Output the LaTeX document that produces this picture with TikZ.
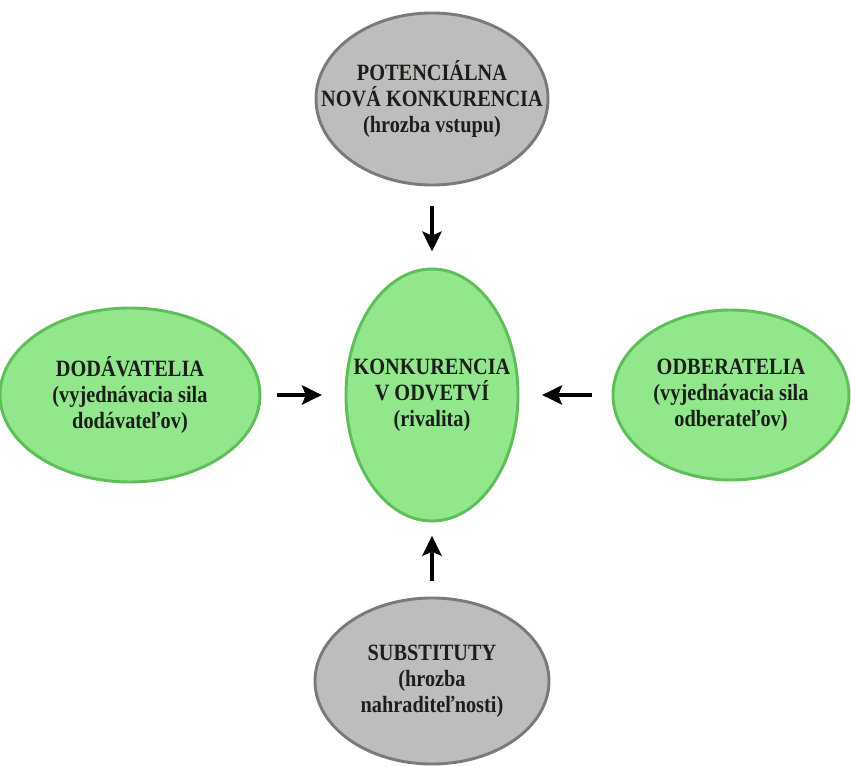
\documentclass[tikz,border=0pt]{standalone}
\usepackage{fontspec}
\setmainfont{Liberation Serif}[FakeStretch=0.87]
\usetikzlibrary{arrows.meta, positioning, shapes.geometric}

\definecolor{forcegreen}{HTML}{92E68C}
\definecolor{forcegreenline}{HTML}{5EBF58}
\definecolor{forcegray}{HTML}{BDBDBD}
\definecolor{forcegrayline}{HTML}{7A7A7A}
\definecolor{forcetext}{HTML}{1A1F1A}

\begin{document}
\begin{tikzpicture}[x=0.75pt, y=-0.75pt,
    force/.style={ellipse, line width=2.2pt, inner sep=-40pt, align=center,
        text=forcetext, font=\bfseries\fontsize{17.5}{19.5}\selectfont},
    greenforce/.style={force, fill=forcegreen, draw=forcegreenline},
    grayforce/.style={force, fill=forcegray, draw=forcegrayline},
    push/.style={-{Stealth[length=15pt, width=14.5pt, inset=3pt]}, line width=2.4pt}
]

    \useasboundingbox (0,0) rectangle (851,767);

    % INDUSTRY RIVALRY
    \node[greenforce, minimum width=129pt, minimum height=189pt]
        (rival) at (432,395)
        {KONKURENCIA\\V ODVETVÍ\\(rivalita)};

    % NEW ENTRANTS
    \node[grayforce, minimum width=174pt, minimum height=129pt]
        (entry) at (432,99)
        {POTENCIÁLNA\\NOVÁ KONKURENCIA\\(hrozba vstupu)};

    % SUPPLIERS
    \node[greenforce, minimum width=195pt, minimum height=130.5pt]
        (supply) at (130,395)
        {DODÁVATELIA\\(vyjednávacia sila\\dodávateľov)};

    % BUYERS
    \node[greenforce, minimum width=177pt, minimum height=127.5pt]
        (buyer) at (731,395)
        {ODBERATELIA\\(vyjednávacia sila\\odberateľov)};

    % SUBSTITUTES
    \node[grayforce, minimum width=175.5pt, minimum height=124.5pt]
        (subst) at (432,681)
        {SUBSTITUTY\\(hrozba\\nahraditeľnosti)};

    % FORCES ACTING ON THE INDUSTRY
    \draw[push, shorten <=15pt, shorten >=12pt] (entry) -- (rival);
    \draw[push, shorten <=12pt, shorten >=10pt] (subst) -- (rival);
    \draw[push, shorten <=12pt, shorten >=17pt] (supply) -- (rival);
    \draw[push, shorten <=15pt, shorten >=17pt] (buyer) -- (rival);

\end{tikzpicture}
\end{document}
